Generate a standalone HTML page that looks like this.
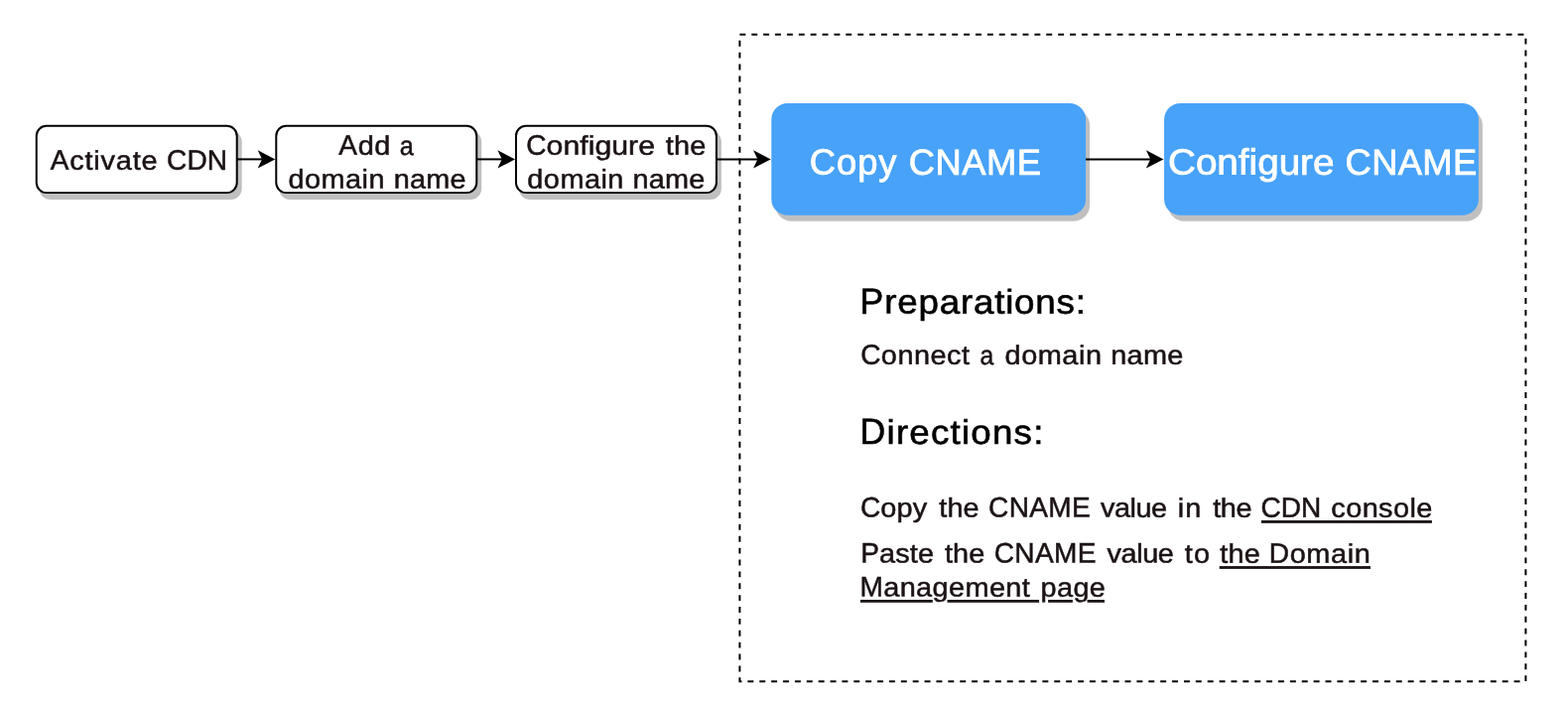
<!DOCTYPE html>
<html lang="en">
<head>
<meta charset="utf-8">
<title>CDN CNAME configuration flow</title>
<style>
html,body{margin:0;padding:0;background:#ffffff;}
body{width:1580px;height:714px;overflow:hidden;}
svg{display:block;will-change:transform;}
text{font-family:'Liberation Sans', sans-serif;text-rendering:geometricPrecision;}
</style>
</head>
<body>
<svg width="1580" height="714" viewBox="0 0 1580 714">
<desc>Activate CDN, Add a domain name, Configure the domain name, Copy CNAME, Configure CNAME. Preparations: Connect a domain name. Directions: Copy the CNAME value in the CDN console. Paste the CNAME value to the Domain Management page.</desc>
<rect x="0" y="0" width="1580" height="714" fill="#ffffff"/>
<g id="shapes">
<path d="M 745.4 34.7 H 1537.4 V 686.2 H 745.4 V 34.7" fill="none" stroke="#000" stroke-width="1.98" stroke-dasharray="5.94 5.94"/>
<rect x="40.71" y="132.74" width="201.96" height="67.32" rx="10.1" ry="10.1" fill="#c0c0c0" stroke="#c0c0c0" stroke-width="1.98"/>
<rect x="36.75" y="126.8" width="201.96" height="67.32" rx="10.1" ry="10.1" fill="#ffffff" stroke="#000" stroke-width="1.98"/>
<rect x="282.26" y="132.74" width="201.96" height="67.32" rx="10.1" ry="10.1" fill="#c0c0c0" stroke="#c0c0c0" stroke-width="1.98"/>
<rect x="278.3" y="126.8" width="201.96" height="67.32" rx="10.1" ry="10.1" fill="#ffffff" stroke="#000" stroke-width="1.98"/>
<rect x="523.91" y="132.74" width="201.96" height="67.32" rx="10.1" ry="10.1" fill="#c0c0c0" stroke="#c0c0c0" stroke-width="1.98"/>
<rect x="519.95" y="126.8" width="201.96" height="67.32" rx="10.1" ry="10.1" fill="#ffffff" stroke="#000" stroke-width="1.98"/>
<rect x="781.26" y="109.94" width="316.8" height="112.86" rx="16.4" ry="16.4" fill="#c0c0c0"/>
<rect x="777.3" y="104" width="316.8" height="112.86" rx="16.4" ry="16.4" fill="#47a2f8"/>
<rect x="1177.06" y="109.94" width="316.8" height="112.86" rx="16.4" ry="16.4" fill="#c0c0c0"/>
<rect x="1173.1" y="104" width="316.8" height="112.86" rx="16.4" ry="16.4" fill="#47a2f8"/>
<path d="M 238.8 160.4 L 265.14 160.4" fill="none" stroke="#000" stroke-width="1.98" stroke-miterlimit="10"/>
<path d="M 275.24 160.4 L 261.87 167.33 L 265.14 160.4 L 261.87 153.47 Z" fill="#000" stroke="#000" stroke-width="1.98" stroke-miterlimit="10"/>
<path d="M 480.2 160.4 L 506.84 160.4" fill="none" stroke="#000" stroke-width="1.98" stroke-miterlimit="10"/>
<path d="M 516.94 160.4 L 503.57 167.33 L 506.84 160.4 L 503.57 153.47 Z" fill="#000" stroke="#000" stroke-width="1.98" stroke-miterlimit="10"/>
<path d="M 722 160.4 L 764.49 160.4" fill="none" stroke="#000" stroke-width="1.98" stroke-miterlimit="10"/>
<path d="M 774.59 160.4 L 761.22 167.33 L 764.49 160.4 L 761.22 153.47 Z" fill="#000" stroke="#000" stroke-width="1.98" stroke-miterlimit="10"/>
<path d="M 1094.1 160.4 L 1160.29 160.4" fill="none" stroke="#000" stroke-width="1.98" stroke-miterlimit="10"/>
<path d="M 1170.39 160.4 L 1157.02 167.33 L 1160.29 160.4 L 1157.02 153.47 Z" fill="#000" stroke="#000" stroke-width="1.98" stroke-miterlimit="10"/>
</g>
<g id="underlines">
<rect x="1270.9" y="524.05" width="172" height="2.8" fill="#1a1213"/>
<rect x="1228.7" y="570.1" width="152.3" height="2.8" fill="#1a1213"/>
<rect x="866.9" y="604" width="72.9" height="2.8" fill="#1a1213"/>
<rect x="954.5" y="604" width="92.6" height="2.8" fill="#1a1213"/>
<rect x="1056.1" y="604" width="24.8" height="2.8" fill="#1a1213"/>
<rect x="1095.6" y="604" width="17.4" height="2.8" fill="#1a1213"/>
</g>
<g id="labels">
<text y="170.85" font-size="27" fill="#1a1213" stroke="#1a1213" stroke-width="0.5" transform="matrix(1 0.0005 0 1 0 -0.0694)"><tspan x="50.65" font-size="28.35" letter-spacing="0.83" textLength="19.54" lengthAdjust="spacingAndGlyphs">A</tspan><tspan letter-spacing="0.768" textLength="89.25" lengthAdjust="spacingAndGlyphs">ctivate</tspan> <tspan x="168.03" font-size="28.35" letter-spacing="0.151" textLength="61.25" lengthAdjust="spacingAndGlyphs">CDN</tspan></text>
<text y="155.75" font-size="27" fill="#1a1213" stroke="#1a1213" stroke-width="0.5" transform="matrix(1 0.0005 0 1 0 -0.1896)"><tspan x="341.35" font-size="28.35" letter-spacing="0.59" textLength="19.3" lengthAdjust="spacingAndGlyphs">A</tspan><tspan letter-spacing="0.546" textLength="33.3" lengthAdjust="spacingAndGlyphs">dd</tspan> <tspan x="402.86" textLength="14.03" lengthAdjust="spacingAndGlyphs">a</tspan></text>
<text y="189.45" font-size="27" fill="#1a1213" stroke="#1a1213" stroke-width="0.5" transform="matrix(1 0.0005 0 1 0 -0.1899)"><tspan x="290.45" letter-spacing="0.425" textLength="97.48" lengthAdjust="spacingAndGlyphs">domain</tspan> <tspan x="396.84" letter-spacing="0.127" textLength="72.81" lengthAdjust="spacingAndGlyphs">name</tspan></text>
<text y="155.75" font-size="27" fill="#1a1213" stroke="#1a1213" stroke-width="0.5" transform="matrix(1 0.0005 0 1 0 -0.3104)"><tspan x="530.33" font-size="28.35" textLength="20.27" lengthAdjust="spacingAndGlyphs">C</tspan><tspan textLength="109.37" lengthAdjust="spacingAndGlyphs">onfigure</tspan> <tspan x="670.85" letter-spacing="0.098" textLength="40.48" lengthAdjust="spacingAndGlyphs">the</tspan></text>
<text y="189.45" font-size="27" fill="#1a1213" stroke="#1a1213" stroke-width="0.5" transform="matrix(1 0.0005 0 1 0 -0.3104)"><tspan x="531.35" letter-spacing="0.425" textLength="97.48" lengthAdjust="spacingAndGlyphs">domain</tspan> <tspan x="637.44" letter-spacing="0.221" textLength="73.21" lengthAdjust="spacingAndGlyphs">name</tspan></text>
<text y="175.67" font-size="36.3" fill="#ffffff" stroke="#ffffff" stroke-width="0.8" transform="matrix(1 0.0005 0 1 0 -0.4662)"><tspan x="815.8" letter-spacing="0.987">Copy</tspan> <tspan x="915.8" letter-spacing="0.509">CNAME</tspan></text>
<text y="175.67" font-size="36.3" fill="#ffffff" stroke="#ffffff" stroke-width="0.8" transform="matrix(1 0.0005 0 1 0 -0.6663)"><tspan x="1176.99" textLength="167.48" lengthAdjust="spacingAndGlyphs">Configure</tspan> <tspan x="1355.6" letter-spacing="0.359">CNAME</tspan></text>
<text y="315.67" font-size="34.3" fill="#000000" stroke="#000000" stroke-width="0.6" transform="matrix(1 0.0005 0 1 0 -0.49)"><tspan x="866.62" font-size="36.77" letter-spacing="0.821" textLength="24.56" lengthAdjust="spacingAndGlyphs">P</tspan><tspan letter-spacing="0.743" textLength="203.54" lengthAdjust="spacingAndGlyphs">reparations:</tspan></text>
<text y="366.8" font-size="27" fill="#1a1213" stroke="#1a1213" stroke-width="0.5" transform="matrix(1 0.0005 0 1 0 -0.5149)"><tspan x="867.13" font-size="28.35" letter-spacing="0.473" textLength="20.74" lengthAdjust="spacingAndGlyphs">C</tspan><tspan letter-spacing="0.437" textLength="89.55" lengthAdjust="spacingAndGlyphs">onnect</tspan> <tspan x="987.48" textLength="13.71" lengthAdjust="spacingAndGlyphs">a</tspan> <tspan x="1012.55" letter-spacing="0.499" textLength="97.96" lengthAdjust="spacingAndGlyphs">domain</tspan> <tspan x="1119.24" letter-spacing="0.252" textLength="73.35" lengthAdjust="spacingAndGlyphs">name</tspan></text>
<text y="447" font-size="34.3" fill="#000000" stroke="#000000" stroke-width="0.6" transform="matrix(1 0.0005 0 1 0 -0.4794)"><tspan x="866.62" font-size="36.77" letter-spacing="1.246" textLength="26.94" lengthAdjust="spacingAndGlyphs">D</tspan><tspan letter-spacing="1.128" textLength="159.07" lengthAdjust="spacingAndGlyphs">irections:</tspan></text>
<text y="520.65" font-size="27" fill="#1a1213" stroke="#1a1213" stroke-width="0.5" transform="matrix(1 0.0005 0 1 0 -0.5776)"><tspan x="866.93" font-size="28.35" letter-spacing="0.124" textLength="20.39" lengthAdjust="spacingAndGlyphs">C</tspan><tspan letter-spacing="0.114" textLength="46.95" lengthAdjust="spacingAndGlyphs">opy</tspan> <tspan x="946.25" letter-spacing="0.098" textLength="40.48" lengthAdjust="spacingAndGlyphs">the</tspan> <tspan x="996.03" font-size="28.35" letter-spacing="0.363" textLength="103.15" lengthAdjust="spacingAndGlyphs">CNAME</tspan> <tspan x="1108.95" letter-spacing="-0.443" textLength="66.7" lengthAdjust="spacingAndGlyphs">value</tspan> <tspan x="1186.84" letter-spacing="0.881" textLength="24.37" lengthAdjust="spacingAndGlyphs">in</tspan> <tspan x="1222.15" letter-spacing="-0.369" textLength="38.98" lengthAdjust="spacingAndGlyphs">the</tspan> <tspan x="1270.53" font-size="28.35" letter-spacing="-0.001" textLength="60.8" lengthAdjust="spacingAndGlyphs">CDN</tspan> <tspan x="1341.35" letter-spacing="0.373" textLength="102.37" lengthAdjust="spacingAndGlyphs">console</tspan></text>
<text y="566.6" font-size="27" fill="#1a1213" stroke="#1a1213" stroke-width="0.5" transform="matrix(1 0.0005 0 1 0 -0.5622)"><tspan x="867.16" font-size="28.35" letter-spacing="0.136" textLength="18.85" lengthAdjust="spacingAndGlyphs">P</tspan><tspan letter-spacing="0.126" textLength="55.14" lengthAdjust="spacingAndGlyphs">aste</tspan> <tspan x="951.95" letter-spacing="0.098" textLength="40.48" lengthAdjust="spacingAndGlyphs">the</tspan> <tspan x="1001.73" font-size="28.35" letter-spacing="0.363" textLength="103.15" lengthAdjust="spacingAndGlyphs">CNAME</tspan> <tspan x="1115.45" letter-spacing="-0.373" textLength="67.07" lengthAdjust="spacingAndGlyphs">value</tspan> <tspan x="1193.65" letter-spacing="1.193" textLength="26.65" lengthAdjust="spacingAndGlyphs">to</tspan> <tspan x="1229.35" letter-spacing="0.191" textLength="40.78" lengthAdjust="spacingAndGlyphs">the</tspan> <tspan x="1278.76" font-size="28.35" letter-spacing="0.638" textLength="20.9" lengthAdjust="spacingAndGlyphs">D</tspan><tspan letter-spacing="0.591" textLength="81.85" lengthAdjust="spacingAndGlyphs">omain</tspan></text>
<text y="600.65" font-size="27" fill="#1a1213" stroke="#1a1213" stroke-width="0.5" transform="matrix(1 0.0005 0 1 0 -0.4954)"><tspan x="866.46" font-size="28.35" letter-spacing="0.387" textLength="23.76" lengthAdjust="spacingAndGlyphs">M</tspan><tspan letter-spacing="0.358" textLength="148.01" lengthAdjust="spacingAndGlyphs">anagement</tspan> <tspan x="1048.54" letter-spacing="0.345" textLength="65.75" lengthAdjust="spacingAndGlyphs">page</tspan></text>
</g>
</svg>
</body>
</html>
